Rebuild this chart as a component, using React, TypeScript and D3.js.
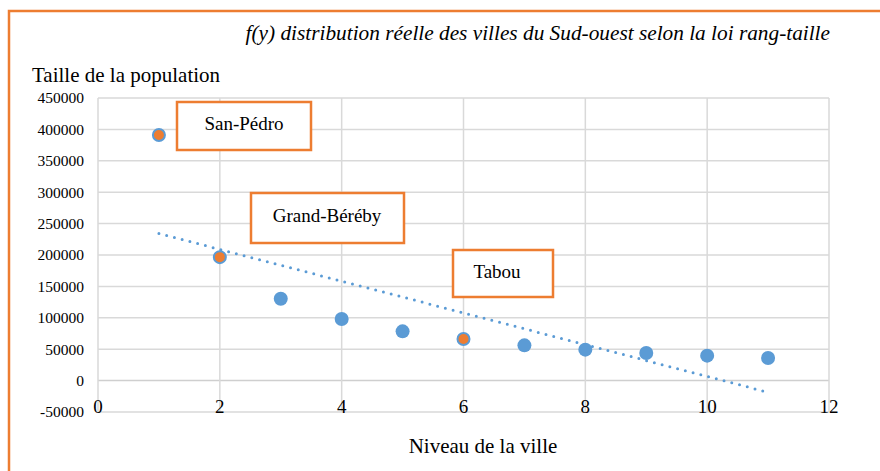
import * as d3 from 'd3';

// Rang des villes et population
const ranks = [1, 2, 3, 4, 5, 6, 7, 8, 9, 10, 11];
const populations = [391000, 196600, 130300, 98000, 78400, 66300, 56100, 49300, 44000, 39700, 36000];
const highlightedRanks = [1, 2, 6];
const cityLabels = ['San-Pédro', 'Grand-Béréby', 'Tabou'];
const xTicks = [0, 2, 4, 6, 8, 10, 12];
const yTicks = [-50000, 0, 50000, 100000, 150000, 200000, 250000, 300000, 350000, 400000, 450000];

const title = 'f(y) distribution réelle des villes du Sud-ouest selon la loi rang-taille';
const yTitle = 'Taille de la population';
const xTitle = 'Niveau de la ville';

// layout of the callout boxes (pixels)
const calloutBoxes = [
  { x: 177, y: 102, w: 134, h: 48, tx: 244, ty: 130 },
  { x: 251, y: 193, w: 153, h: 50, tx: 327, ty: 221.5 },
  { x: 453, y: 250, w: 100, h: 47, tx: 497, ty: 278 },
];

const WIDTH = 880;
const HEIGHT = 471;
const BLUE = '#5b9bd5';
const ORANGE = '#ed7d31';
const GRID = '#d9d9d9';
const FONT = "'Times New Roman', 'Liberation Serif', 'DejaVu Serif', serif";

export default function App() {
  const margin = { left: 98, right: 51, top: 98, bottom: 59 };
  const x = d3.scaleLinear().domain([0, 12]).range([margin.left, WIDTH - margin.right]);
  const y = d3.scaleLinear().domain([-50000, 450000]).range([HEIGHT - margin.bottom, margin.top]);

  const points = ranks.map((r, i) => ({ rank: r, pop: populations[i] }));

  // linear trendline (least squares)
  const mx = d3.mean(ranks) || 0;
  const my = d3.mean(populations) || 0;
  const sxy = d3.sum(points, d => (d.rank - mx) * (d.pop - my));
  const sxx = d3.sum(points, d => (d.rank - mx) ** 2);
  const slope = sxy / sxx;
  const intercept = my - slope * mx;
  const first = ranks[0];
  const last = ranks[ranks.length - 1];
  const trend = d3.line<number>()
    .x(d => x(d))
    .y(d => y(intercept + slope * d))([first, last]);

  return (
    <svg
      width={WIDTH}
      height={HEIGHT}
      style={{ position: 'absolute', left: 0, top: 0, display: 'block', background: '#fff', fontFamily: FONT }}
    >
      <rect x={9} y={11} width={920} height={520} fill="none" stroke={ORANGE} strokeWidth={2.5} />

      <text x={830} y={40} textAnchor="end" fontSize={21.3} fontStyle="italic" fill="#000">
        {title}
      </text>
      <text x={32} y={82} fontSize={21} fill="#000">{yTitle}</text>
      <text x={483} y={453} textAnchor="middle" fontSize={21} fill="#000">
        {xTitle}
      </text>

      {/* grid */}
      <g>
        {yTicks.map(t => (
          <line key={'h' + t} x1={x(0)} x2={x(12)} y1={y(t)} y2={y(t)}
            stroke={t === 0 ? '#cfcfcf' : GRID} strokeWidth={1.5} />
        ))}
        {xTicks.map(t => (
          <line key={'v' + t} x1={x(t)} x2={x(t)} y1={y(450000)} y2={y(-50000)}
            stroke={GRID} strokeWidth={1.5} />
        ))}
      </g>

      {/* y tick labels */}
      {yTicks.map(t => (
        <text key={'yl' + t} x={84} y={y(t)} dy="0.35em" textAnchor="end" fontSize={15.5} fill="#000">
          {t}
        </text>
      ))}
      {/* x tick labels */}
      {xTicks.map(t => (
        <text key={'xl' + t} x={x(t)} y={y(-50000) + 1} textAnchor="middle" fontSize={19} fill="#000">
          {t}
        </text>
      ))}

      {/* trendline */}
      <path d={trend || ''} fill="none" stroke={BLUE} strokeWidth={3} strokeDasharray="0 8" strokeLinecap="round" />

      {/* points */}
      {points.map(d => {
        const hl = highlightedRanks.includes(d.rank);
        return hl ? (
          <circle key={'p' + d.rank} cx={x(d.rank)} cy={y(d.pop)} r={6} fill={ORANGE} stroke={BLUE} strokeWidth={2} />
        ) : (
          <circle key={'p' + d.rank} cx={x(d.rank)} cy={y(d.pop)} r={7} fill={BLUE} />
        );
      })}

      {/* callouts */}
      {calloutBoxes.map((b, i) => (
        <g key={'c' + i}>
          <rect x={b.x} y={b.y} width={b.w} height={b.h} fill="#fff" stroke={ORANGE} strokeWidth={2.5} />
          <text x={b.tx} y={b.ty} textAnchor="middle" fontSize={19} fill="#000">
            {cityLabels[i]}
          </text>
        </g>
      ))}
    </svg>
  );
}
